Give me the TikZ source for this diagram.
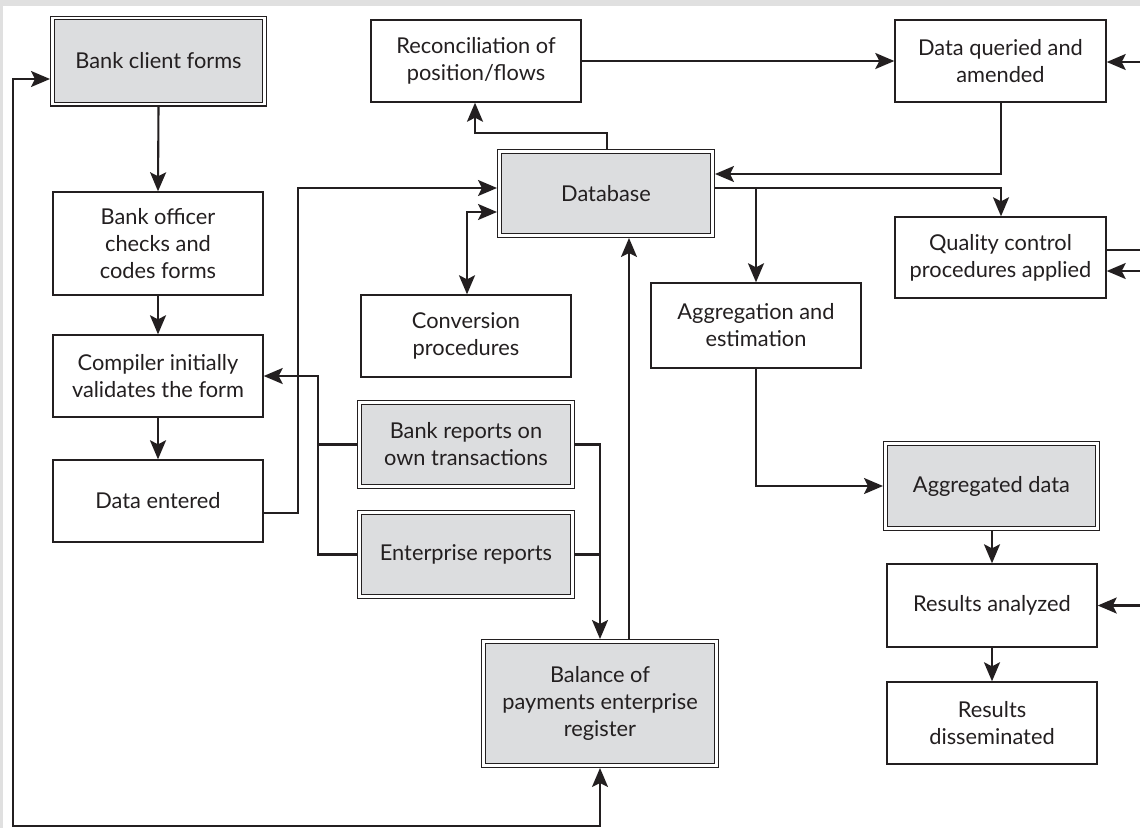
\documentclass[tikz,border=0pt]{standalone}
\usepackage{fontspec}
\setmainfont{Lato}
\usetikzlibrary{arrows.meta}
\definecolor{ink}{HTML}{231F20}
\definecolor{boxgray}{HTML}{DCDDDF}
\definecolor{framegray}{HTML}{E0E0E0}
\begin{document}
\begin{tikzpicture}[x=1pt,y=-1pt,
  every node/.style={font=\fontsize{21.8}{27}\selectfont, text=ink, align=center, inner sep=0pt},
  sbox/.style={draw=ink, line width=1.4pt, fill=white, outer sep=0.7pt},
  dbox/.style={draw=ink, line width=1.2pt, double=white, double distance=2.4pt, fill=boxgray, outer sep=2.4pt},
  conn/.style={draw=ink, line width=2.1pt},
  arr/.style={-{Stealth[length=19pt,width=16pt,inset=4pt]}},
  barr/.style={{Stealth[length=19pt,width=16pt,inset=4pt]}-{Stealth[length=19pt,width=16pt,inset=4pt]}},
]
\useasboundingbox (0,0) rectangle (1140,828);
\fill[white] (0,0) rectangle (1140,828);
\fill[framegray] (0,0) rectangle (1140,6);
\fill[framegray] (0,0) rectangle (3,828);

% nodes
\node[dbox, minimum width=212.2pt, minimum height=86.2pt] (client) at (158.5,61) {Bank client forms};
\node[sbox, minimum width=210pt, minimum height=103pt] (officer) at (158,243.5) {Bank officer\\checks and\\codes forms};
\node[sbox, minimum width=210pt, minimum height=82pt] (compiler) at (158,376) {Compiler initially\\validates the form};
\node[sbox, minimum width=210pt, minimum height=82pt] (dataentered) at (158,501) {Data entered};
\node[sbox, minimum width=210pt, minimum height=82pt] (recon) at (476,61) {Reconciliation of\\position/flows};
\node[dbox, minimum width=213.2pt, minimum height=84.2pt] (database) at (606,193.5) {Database};
\node[sbox, minimum width=210pt, minimum height=82pt] (conversion) at (466,336) {Conversion\\procedures};
\node[dbox, minimum width=213.2pt, minimum height=84.2pt] (bankrep) at (466,444.5) {Bank reports on\\own transactions};
\node[dbox, minimum width=213.2pt, minimum height=84.2pt] (enterprise) at (466,554.5) {Enterprise reports};
\node[dbox, minimum width=233.2pt, minimum height=124.2pt] (balance) at (600,703.5) {Balance of\\payments enterprise\\register};
\node[sbox, minimum width=211pt, minimum height=82pt] (query) at (1000.5,61) {Data queried and\\amended};
\node[sbox, minimum width=211pt, minimum height=81pt] (quality) at (1000.5,257.5) {Quality control\\procedures applied};
\node[sbox, minimum width=210pt, minimum height=85pt] (aggregation) at (756,325.5) {Aggregation and\\estimation};
\node[dbox, minimum width=212.2pt, minimum height=85.2pt] (aggregated) at (991.5,486) {Aggregated data};
\node[sbox, minimum width=210pt, minimum height=83pt] (analyzed) at (992,605.5) {Results analyzed};
\node[sbox, minimum width=210pt, minimum height=82pt] (dissem) at (992,723) {Results\\disseminated};

% free ends at the right edge
\coordinate (eq) at (1140,62);
\coordinate (eqo) at (1140,250);
\coordinate (eqi) at (1140,271);
\coordinate (ea) at (1140,605.5);

% connectors
\draw[conn,arr] (client.south) -- (officer.north);
\draw[conn,arr] (officer.south) -- (compiler.north);
\draw[conn,arr] (compiler.south) -- (dataentered.north);
\draw[conn,arr] (dataentered.east |- 0,513) -- (298,513) -- (298,188) -- (database.west |- 0,188);
\draw[conn,barr] (conversion.north -| 467,0) -- (467,212) -- (database.west |- 0,212);
\draw[conn] (bankrep.west) -- (318,444.5);
\draw[conn,arr] (enterprise.west) -- (318,554.5) -- (318,376) -- (compiler.east);
\draw[conn] (enterprise.east) -- (600,554.5);
\draw[conn,arr] (bankrep.east) -- (600,444.5) -- (balance.north);
\draw[conn,arr] (balance.north -| 629,0) -- (database.south -| 629,0);
\draw[conn,barr] (balance.south) -- (600,826) -- (13,826) -- (13,79) -- (client.west |- 0,79);
\draw[conn,arr] (database.north -| 607,0) -- (607,133) -- (475,133) -- (recon.south -| 475,0);
\draw[conn,arr] (recon.east) -- (query.west);
\draw[conn,arr] (eq) -- (query.east |- eq);
\draw[conn,arr] (query.south -| 1001,0) -- (1001,174) -- (database.east |- 0,174);
\draw[conn,arr] (database.east |- 0,188) -- (1001,188) -- (quality.north -| 1001,0);
\draw[conn,arr] (756,188) -- (aggregation.north);
\draw[conn] (quality.east |- eqo) -- (eqo);
\draw[conn,arr] (eqi) -- (quality.east |- eqi);
\draw[conn,arr] (aggregation.south) -- (756,486) -- (aggregated.west);
\draw[conn,arr] (aggregated.south -| 992,0) -- (analyzed.north);
\draw[conn,arr] (ea) -- (analyzed.east);
\draw[conn,arr] (analyzed.south) -- (dissem.north);
\end{tikzpicture}
\end{document}
